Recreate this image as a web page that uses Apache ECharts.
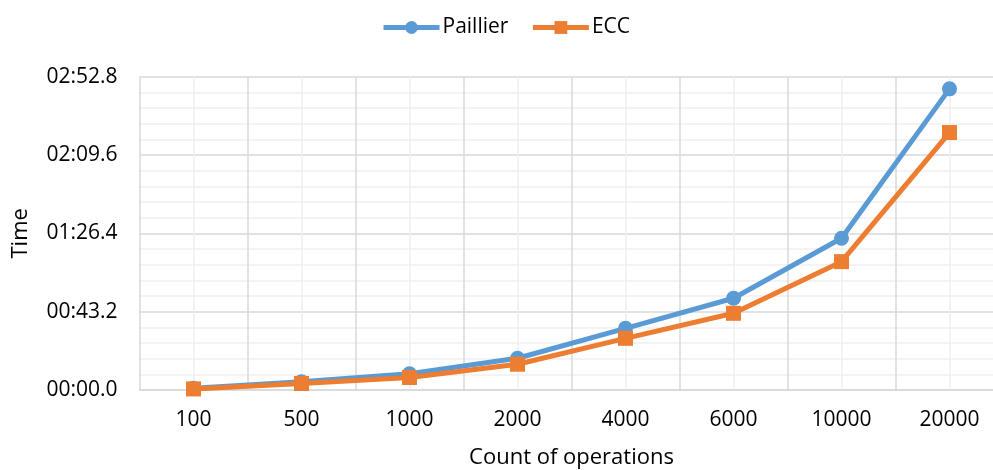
<!DOCTYPE html>
<html><head><meta charset="utf-8">
<script src="https://cdn.jsdelivr.net/npm/echarts@6/dist/echarts.min.js"></script>
<style>html,body{margin:0;padding:0;background:#fff}#c{width:993px;height:470px}</style>
</head><body><div id="c"></div>
<script>
const categories = ['100','500','1000','2000','4000','6000','10000','20000'];
const paillier = [1.0, 4.6, 9.0, 17.5, 34.0, 50.6, 83.7, 166.1];
const ecc = [0.6, 3.6, 6.9, 14.2, 28.5, 42.3, 70.8, 142.0];
const yTicks = [0, 43.2, 86.4, 129.6, 172.8];

function fmt(v){
  const m = Math.floor(v/60+1e-9);
  const s = v - m*60;
  const ss = s.toFixed(1);
  return String(m).padStart(2,'0') + ':' + (s < 10 ? '0' : '') + ss;
}
const font = '"Open Sans", Lato, sans-serif';
const fs = 21;
const chart = echarts.init(document.getElementById('c'));
chart.setOption({
  animation: false,
  textStyle: {fontFamily: font},
  legend: {
    top: 17, left: 381, padding: 0, itemWidth: 56, itemHeight: 16, itemGap: 22,
    textStyle: {fontSize: fs, color: '#000', fontFamily: font, padding: [0,0,0,-2]},
    lineStyle: {width: 5},
    data: ['Paillier','ECC']
  },
  grid: {left: 139.5, top: 76.7, width: 864, height: 313.3, outerBoundsMode: 'none', containLabel: false},
  xAxis: [{
    type: 'category', data: categories, boundaryGap: true,
    axisLine: {lineStyle: {color: '#d9d9d9', width: 1.5}},
    axisTick: {show: false},
    axisLabel: {fontSize: fs, color: '#000', margin: 20, fontFamily: font},
    splitLine: {show: false},
    name: 'Count of operations', nameLocation: 'middle', nameGap: 57,
    nameTextStyle: {fontSize: 22, color: '#000', fontFamily: font}
  },{
    type: 'value', min: 0, max: 8, interval: 1, position: 'bottom',
    axisLine: {show: false}, axisTick: {show: false}, axisLabel: {show: false},
    splitLine: {show: true, lineStyle: {color: '#d9d9d9', width: 1.5}},
    minorTick: {show: false, splitNumber: 2},
    minorSplitLine: {show: true, lineStyle: {color: '#f0f0f0', width: 1.5}}
  }],
  yAxis: {
    type: 'value', min: yTicks[0], max: yTicks[yTicks.length-1], interval: 43.2,
    axisLine: {show: false}, axisTick: {show: false},
    axisLabel: {fontSize: fs, color: '#000', margin: 22, formatter: fmt, fontFamily: font},
    splitLine: {show: true, lineStyle: {color: '#d9d9d9', width: 1.5}},
    minorTick: {show: false, splitNumber: 5},
    minorSplitLine: {show: true, lineStyle: {color: '#f0f0f0', width: 1.5}},
    name: 'Time', nameLocation: 'middle', nameGap: 108, nameRotate: 90,
    nameTextStyle: {fontSize: 22, color: '#000', fontFamily: font}
  },
  series: [{
    name: 'Paillier', type: 'line', data: paillier, xAxisIndex: 0,
    symbol: 'circle', symbolSize: 15,
    lineStyle: {color: '#5B9BD5', width: 5},
    itemStyle: {color: '#5B9BD5'}
  },{
    name: 'ECC', type: 'line', data: ecc, xAxisIndex: 0,
    symbol: 'rect', symbolSize: 15,
    lineStyle: {color: '#ED7D31', width: 5},
    itemStyle: {color: '#ED7D31'}
  }]
});
</script></body></html>
